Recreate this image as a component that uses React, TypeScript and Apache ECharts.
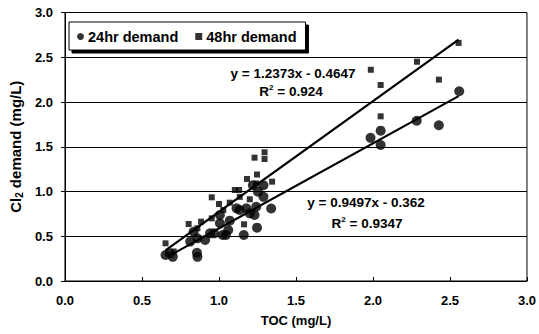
import React, { useEffect, useRef } from "react";
import * as echarts from "echarts";

const toc24 = [2.56, 2.284, 2.428, 1.984, 2.05, 2.05,
  0.653, 0.70, 0.68, 0.857, 0.86, 0.813, 0.86, 0.835, 0.968, 1.024, 1.045, 1.161, 1.247, 1.006,
  1.07, 1.006, 1.114, 1.2, 1.231, 1.178, 1.242, 1.339, 1.289, 1.253, 1.22, 1.289, 1.135, 0.91, 0.942, 1.06];
const demand24 = [2.12, 1.79, 1.74, 1.60, 1.68, 1.52,
  0.29, 0.27, 0.31, 0.316, 0.27, 0.44, 0.477, 0.55, 0.533, 0.514, 0.514, 0.514, 0.596, 0.645,
  0.674, 0.737, 0.812, 0.756, 0.737, 0.812, 0.83, 0.81, 0.94, 0.998, 1.07, 1.07, 0.793, 0.458, 0.533, 0.57];

const toc48 = [2.556, 2.286, 1.986, 2.05, 2.428, 2.05,
  1.231, 1.296, 1.296, 1.345, 1.247, 1.182, 1.103, 1.131, 0.953, 1.0, 1.2, 0.803, 0.884, 1.163,
  0.653, 1.07, 0.86, 1.135, 1.242, 0.953, 1.028, 0.706];
const demand48 = [2.66, 2.45, 2.36, 2.19, 2.25, 1.84,
  1.378, 1.438, 1.363, 1.11, 1.19, 1.14, 1.017, 1.017, 0.935, 0.86, 0.913, 0.637, 0.663, 0.633,
  0.421, 0.875, 0.589, 0.94, 1.09, 0.70, 0.793, 0.33];

const trend24 = [0.9497, -0.362];
const trend48 = [1.2373, -0.4647];
const trend24Range = [0.70, 2.556];
const trend48Range = [0.653, 2.556];

const eq48Lines = ["y = 1.2373x - 0.4647", "R{sup|2} = 0.924"];
const eq24Lines = ["y = 0.9497x - 0.362", "R{sup|2} = 0.9347"];

const FONT = "'Liberation Sans', Arial, sans-serif";

function trendData(c: number[], r: number[]) {
  return r.map((x) => [x, c[0] * x + c[1]]);
}

export default function App() {
  const ref = useRef<HTMLDivElement>(null);
  useEffect(() => {
    if (!ref.current) return;
    const chart = echarts.init(ref.current, null, { renderer: "svg" });
    const textStyle = (x: number, y: number, t: string) => ({
      type: "text",
      x,
      y,
      style: {
        text: t,
        fontFamily: FONT,
        fontWeight: "bold",
        fontSize: 13.5,
        fill: "#000",
        align: "center",
        verticalAlign: "middle",
        rich: {
          sup: { fontSize: 8, fontWeight: "bold", fontFamily: FONT, verticalAlign: "top", padding: [0, 0, 7, 0] },
        },
      },
      z: 20,
    });
    chart.setOption({
      animation: false,
      backgroundColor: "#fff",
      textStyle: { fontFamily: FONT },
      grid: {
        left: 63.5,
        right: 9,
        top: 12.5,
        bottom: 53,
        show: true,
        borderColor: "#000",
        borderWidth: 1,
      },
      legend: {
        left: 69,
        top: 22,
        padding: [7, 9, 6, 8],
        itemGap: 17,
        itemWidth: 7,
        itemHeight: 7,
        backgroundColor: "#fff",
        borderColor: "#000",
        borderWidth: 1,
        shadowColor: "#000",
        shadowBlur: 0,
        shadowOffsetX: 3,
        shadowOffsetY: 3,
        textStyle: { fontFamily: FONT, fontWeight: "bold", fontSize: 14.5, color: "#000", padding: [0, 0, 0, -1] },
        data: [
          { name: "24hr demand", icon: "circle" },
          { name: "48hr demand", icon: "rect" },
        ],
      },
      xAxis: {
        type: "value",
        min: 0,
        max: 3,
        interval: 0.5,
        name: "TOC (mg/L)",
        nameLocation: "middle",
        nameGap: 33,
        nameTextStyle: { fontFamily: FONT, fontWeight: "bold", fontSize: 13, color: "#000" },
        axisLine: { show: true, lineStyle: { color: "#000", width: 1 } },
        axisTick: { show: true, inside: true, length: 4, lineStyle: { color: "#000" } },
        axisLabel: {
          fontFamily: FONT,
          fontWeight: "bold",
          fontSize: 13,
          color: "#000",
          margin: 13,
          formatter: (v: number) => v.toFixed(1),
        },
        splitLine: { show: false },
      },
      yAxis: {
        type: "value",
        min: 0,
        max: 3,
        interval: 0.5,
        name: "Cl{sub|2} demand (mg/L)",
        nameLocation: "middle",
        nameGap: 40,
        nameRotate: 90,
        nameTextStyle: {
          fontFamily: FONT,
          fontWeight: "bold",
          fontSize: 15,
          color: "#000",
          rich: {
            sub: { fontSize: 10, fontWeight: "bold", fontFamily: FONT, color: "#000", verticalAlign: "bottom", padding: [7, 0, 0, 0] },
          },
        },
        axisLine: { show: true, lineStyle: { color: "#000", width: 1 } },
        axisTick: { show: true, inside: false, length: 4, lineStyle: { color: "#000" } },
        axisLabel: {
          fontFamily: FONT,
          fontWeight: "bold",
          fontSize: 13,
          color: "#000",
          margin: 12,
          formatter: (v: number) => v.toFixed(1),
        },
        splitLine: { show: true, lineStyle: { color: "#000", width: 1 } },
      },
      series: [
        {
          name: "24hr demand",
          type: "scatter",
          symbol: "circle",
          symbolSize: 10,
          itemStyle: { color: "#000" },
          data: toc24.map((x, i) => [x, demand24[i]]),
          z: 3,
        },
        {
          name: "48hr demand",
          type: "scatter",
          symbol: "rect",
          symbolSize: 6,
          itemStyle: { color: "#000" },
          data: toc48.map((x, i) => [x, demand48[i]]),
          z: 3,
        },
        {
          name: "trend48",
          type: "line",
          data: trendData(trend48, trend48Range),
          symbol: "none",
          lineStyle: { color: "#000", width: 2.2 },
          z: 4,
        },
        {
          name: "trend24",
          type: "line",
          data: trendData(trend24, trend24Range),
          symbol: "none",
          lineStyle: { color: "#000", width: 2.2 },
          z: 4,
        },
      ],
      graphic: [
        textStyle(293, 73, eq48Lines[0]),
        textStyle(291, 91, eq48Lines[1]),
        textStyle(366, 202, eq24Lines[0]),
        textStyle(367, 223, eq24Lines[1]),
      ],
    });
    return () => chart.dispose();
  }, []);
  return <div ref={ref} style={{ width: 539, height: 334, position: "absolute", left: 0, top: 0 }} />;
}
